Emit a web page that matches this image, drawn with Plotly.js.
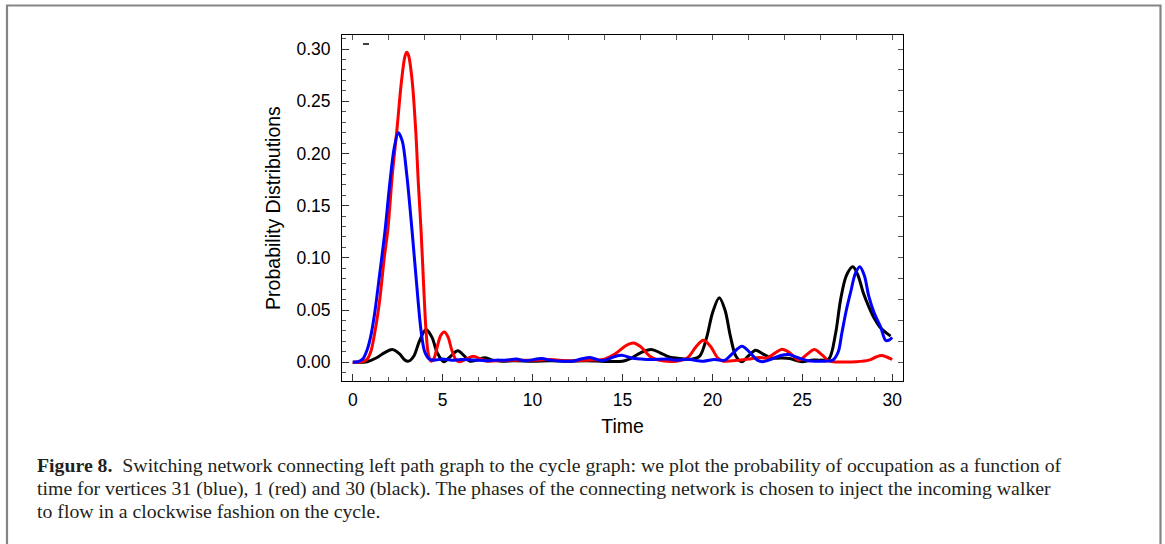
<!DOCTYPE html>
<html>
<head>
<meta charset="utf-8">
<script src="https://cdn.plot.ly/plotly-3.0.1.min.js"></script>
<style>
  html, body { margin: 0; padding: 0; background: #fff; }
  #chart { width: 1165px; height: 544px; }
</style>
</head>
<body>
<div id="chart"></div>
<script>
// ---- Data ----
const timeBlack = [0, 0.8, 1.3, 1.8, 2.2, 2.6, 2.9, 3.1, 3.4, 3.7, 4.07, 4.4, 4.7, 5.06, 5.4, 5.84, 6.2, 6.5, 6.9, 7.33, 7.8, 8.3, 9, 10, 11, 12, 13, 14, 15.0, 15.5, 16.0, 16.6, 17.1, 17.6, 18.2, 18.9, 19.3, 19.7, 20.0, 20.38, 20.7, 21.0, 21.3, 21.64, 22.0, 22.4, 22.8, 23.3, 23.8, 24.3, 24.98, 25.5, 26.0, 26.47, 26.85, 27.12, 27.45, 27.81, 28.1, 28.4, 28.7, 29.0, 29.3, 29.6, 29.91];
const probBlack = [0, 0.0005, 0.004, 0.0095, 0.0122, 0.008, 0.002, 0.001, 0.006, 0.02, 0.0313, 0.024, 0.009, 0.0005, 0.005, 0.0109, 0.006, 0.001, 0.002, 0.0042, 0.002, 0.001, 0.0015, 0.001, 0.0015, 0.001, 0.0015, 0.0008, 0.001, 0.004, 0.009, 0.0122, 0.009, 0.005, 0.0035, 0.003, 0.006, 0.025, 0.047, 0.0617, 0.05, 0.025, 0.006, 0.0005, 0.006, 0.0115, 0.008, 0.004, 0.004, 0.0035, 0.0005, 0.002, 0.002, 0.003, 0.0275, 0.059, 0.083, 0.0914, 0.083, 0.066, 0.053, 0.042, 0.034, 0.029, 0.025];

const timeRed = [0, 0.5, 0.8, 1.0, 1.25, 1.5, 1.75, 1.95, 2.2, 2.45, 2.7, 2.9, 3.0, 3.1, 3.3, 3.5, 3.65, 3.8, 3.95, 4.07, 4.2, 4.35, 4.5, 4.7, 4.9, 5.1, 5.3, 5.5, 5.75, 5.95, 6.3, 6.7, 7.1, 7.5, 8, 9, 10, 11, 12, 13, 14, 14.6, 15.2, 15.6, 16.0, 16.5, 17, 18, 18.6, 19.1, 19.5, 19.9, 20.3, 20.6, 21.5, 22.0, 22.6, 23.0, 23.5, 23.87, 24.3, 24.8, 25.3, 25.67, 26.1, 26.5, 27, 28, 28.7, 29.1, 29.4, 29.7, 30];
const probRed = [0, 0.0003, 0.003, 0.01, 0.031, 0.06, 0.1, 0.127, 0.18, 0.222, 0.268, 0.293, 0.297, 0.294, 0.27, 0.222, 0.17, 0.125, 0.07, 0.031, 0.008, 0.001, 0.003, 0.015, 0.026, 0.029, 0.024, 0.012, 0.002, 0.0005, 0.003, 0.0057, 0.003, 0.001, 0.0015, 0.002, 0.002, 0.0025, 0.0015, 0.002, 0.003, 0.008, 0.016, 0.0185, 0.015, 0.006, 0.002, 0.001, 0.004, 0.015, 0.021, 0.015, 0.004, 0.001, 0.002, 0.003, 0.0045, 0.004, 0.009, 0.0124, 0.009, 0.002, 0.008, 0.0121, 0.007, 0.001, 0.0003, 0.0005, 0.002, 0.005, 0.0064, 0.005, 0.0026];

const timeBlue = [0, 0.3, 0.55, 0.8, 1.0, 1.2, 1.5, 1.8, 2.05, 2.3, 2.53, 2.75, 3.0, 3.29, 3.55, 3.79, 4.0, 4.25, 4.5, 5, 5.5, 6, 7, 7.5, 8, 8.5, 9.1, 9.6, 10.5, 11, 11.7, 12.2, 12.7, 13.2, 13.7, 14.0, 14.5, 14.95, 15.5, 16.1, 16.6, 17.5, 18.0, 18.6, 19.5, 20.1, 20.7, 21.1, 21.64, 22.1, 22.5, 22.8, 23.3, 23.8, 24.24, 24.8, 25.3, 25.8, 26.3, 26.7, 27.0, 27.2, 27.45, 27.7, 27.95, 28.2, 28.45, 28.7, 29.0, 29.35, 29.63, 29.8, 30];
const probBlue = [0, 0.0005, 0.003, 0.012, 0.025, 0.045, 0.085, 0.127, 0.17, 0.205, 0.2198, 0.212, 0.18, 0.127, 0.075, 0.031, 0.01, 0.003, 0.002, 0.003, 0.002, 0.0025, 0.002, 0.0015, 0.002, 0.002, 0.003, 0.0015, 0.0035, 0.002, 0.001, 0.001, 0.003, 0.0045, 0.002, 0.0018, 0.005, 0.0067, 0.004, 0.003, 0.0025, 0.003, 0.002, 0.0028, 0.001, 0.0026, 0.002, 0.008, 0.0153, 0.009, 0.002, 0.0005, 0.003, 0.0065, 0.0073, 0.004, 0.0015, 0.001, 0.001, 0.002, 0.01, 0.028, 0.05, 0.068, 0.085, 0.0914, 0.083, 0.063, 0.047, 0.034, 0.021, 0.021, 0.0237];

const xTitle = "Time";
const yTitle = "Probability Distributions";
const captionLines = [
  "<b>Figure 8.</b>  Switching network connecting left path graph to the cycle graph: we plot the probability of occupation as a function of",
  "time for vertices 31 (blue), 1 (red) and 30 (black). The phases of the connecting network is chosen to inject the incoming walker",
  "to flow in a clockwise fashion on the cycle."
];

// ---- Layout geometry (pixels) ----
const W = 1165, H = 544;
const L = 342, R = 903, T = 35, B = 381;
const px2x = p => (p - L) / (R - L);
const py2y = p => (B - p) / (B - T);

function curve(x, y, color) {
  return {
    x: x, y: y, type: 'scatter', mode: 'lines',
    line: {color: color, width: 3, shape: 'spline', smoothing: 0.9},
    hoverinfo: 'skip', showlegend: false
  };
}

const traces = [
  curve(timeBlack, probBlack, '#000000'),
  curve(timeRed, probRed, '#ff0000'),
  curve(timeBlue, probBlue, '#0000ff'),
  {x: [], y: [], xaxis: 'x2', yaxis: 'y2', type: 'scatter', mode: 'lines', showlegend: false, hoverinfo: 'skip'}
];

const xr = [-0.6, 30.6];
const yr = [-0.018, 0.3135];
const tickFont = {family: 'Liberation Sans, Arial, sans-serif', size: 17.5, color: '#000'};
const titleFont = {family: 'Liberation Sans, Arial, sans-serif', size: 19.5, color: '#000'};

const annotations = captionLines.map((t, i) => ({
  xref: 'paper', yref: 'paper',
  x: px2x(35), y: py2y(465 + i * 23),
  xanchor: 'left', yanchor: 'middle', align: 'left',
  showarrow: false, text: t,
  font: {family: 'Liberation Serif, Times New Roman, serif', size: 19.8, color: '#231f20'}
}));

const shapes = [
  // figure frame (gray, open at the bottom edge of the picture)
  {type: 'path', xref: 'paper', yref: 'paper',
   path: `M ${px2x(7)} ${py2y(560)} L ${px2x(7)} ${py2y(5.5)} L ${px2x(1160.5)} ${py2y(5.5)} L ${px2x(1160.5)} ${py2y(560)}`,
   line: {color: '#858585', width: 2.2}, layer: 'above'},
  // tiny stray dash in the top-left corner of the frame
  {type: 'line', xref: 'paper', yref: 'paper',
   x0: px2x(363), x1: px2x(369), y0: py2y(44), y1: py2y(44),
   line: {color: '#000', width: 1.5}}
];

const layout = {
  width: W, height: H,
  margin: {l: L, r: W - R, t: T, b: H - B, pad: 0},
  paper_bgcolor: '#fff', plot_bgcolor: '#fff',
  showlegend: false,
  xaxis: {
    range: xr, showgrid: false, zeroline: false,
    showline: true, linecolor: '#000', linewidth: 1, mirror: false,
    tickmode: 'linear', tick0: 0, dtick: 5,
    ticks: 'inside', ticklen: 7, tickwidth: 1, tickcolor: '#333',
    minor: {tickmode: 'linear', tick0: 0, dtick: 1, ticks: 'inside', ticklen: 4, tickwidth: 1, tickcolor: '#555', showgrid: false},
    tickfont: tickFont, ticklabelstandoff: 3,
    title: {text: xTitle, font: titleFont, standoff: 10}
  },
  yaxis: {
    range: yr, showgrid: false, zeroline: false,
    showline: true, linecolor: '#000', linewidth: 1, mirror: false,
    tickmode: 'linear', tick0: 0, dtick: 0.05, tickformat: '.2f',
    ticks: 'inside', ticklen: 7, tickwidth: 1, tickcolor: '#333',
    minor: {tickmode: 'linear', tick0: 0, dtick: 0.01, ticks: 'inside', ticklen: 4, tickwidth: 1, tickcolor: '#555', showgrid: false},
    tickfont: tickFont, ticklabelstandoff: 7,
    title: {text: yTitle, font: titleFont, standoff: 10}
  },
  xaxis2: {
    overlaying: 'x', side: 'top', range: xr, showgrid: false, zeroline: false,
    showline: true, linecolor: '#000', linewidth: 1,
    tickmode: 'linear', tick0: 0, dtick: 2,
    ticks: 'inside', ticklen: 5, tickwidth: 1, tickcolor: '#555',
    showticklabels: false
  },
  yaxis2: {
    overlaying: 'y', side: 'right', range: yr, showgrid: false, zeroline: false,
    showline: true, linecolor: '#000', linewidth: 1,
    tickmode: 'linear', tick0: 0, dtick: 0.02,
    ticks: 'inside', ticklen: 5, tickwidth: 1, tickcolor: '#555',
    showticklabels: false
  },
  annotations: annotations,
  shapes: shapes
};

Plotly.newPlot('chart', traces, layout, {staticPlot: true, displayModeBar: false});
</script>
</body>
</html>
